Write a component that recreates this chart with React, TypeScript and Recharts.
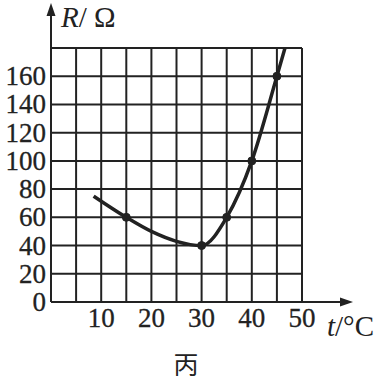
import { ComposedChart, Line, XAxis, YAxis, CartesianGrid } from 'recharts';

// measured points (dots) and the hand-drawn curve through them
const pointT = [15, 30, 35, 40, 45];
const pointR = [60, 40, 60, 100, 160];
const curveT = [8.5, 15, 20, 25, 30, 35, 40, 45, 47.5];
const curveR = [75, 60, 50, 43, 40, 60, 100, 160, 191];
const xTicks = [0, 5, 10, 15, 20, 25, 30, 35, 40, 45, 50];
const yTicks = [0, 20, 40, 60, 80, 100, 120, 140, 160, 180];

const points = pointT.map((t, i) => ({ t, r: pointR[i] }));
const curve = curveT.map((t, i) => ({ t, r: curveR[i] }));

const INK = '#222';
const SERIF = '"Liberation Serif", "DejaVu Serif", serif';

function XTick(props: any) {
    const { x, y, payload } = props;
    const v = payload.value;
    if (v === 0 || v % 10 !== 0) return null;
    return (
        <text x={x} y={y + 25} textAnchor="middle" style={{ fontFamily: SERIF, fontSize: 27 }} fill={INK} stroke={INK} strokeWidth={0.3}>
            {v}
        </text>
    );
}

function YTick(props: any) {
    const { x, y, payload } = props;
    const v = payload.value;
    if (v === 180) return null;
    return (
        <text x={x - 5} y={y + 9} textAnchor="end" style={{ fontFamily: SERIF, fontSize: 27 }} fill={INK} stroke={INK} strokeWidth={0.3}>
            {v}
        </text>
    );
}

function YArrow(props: any) {
    const { x, y, width } = props.viewBox;
    const ax = x + width;
    return (
        <g>
            <line x1={ax} y1={y} x2={ax} y2={9} stroke={INK} strokeWidth={2} />
            <polygon points={`${ax},3 ${ax - 4.5},16 ${ax + 4.5},16`} fill={INK} />
            <text x={ax + 10} y={27} style={{ fontFamily: SERIF, fontSize: 29 }} fill={INK}>
                <tspan fontStyle="italic">R</tspan>
                <tspan>/ Ω</tspan>
            </text>
        </g>
    );
}

function XArrow(props: any) {
    const { x, y, width } = props.viewBox;
    const ex = x + width;
    return (
        <g>
            <line x1={ex} y1={y} x2={ex + 44} y2={y} stroke={INK} strokeWidth={2} />
            <polygon points={`${ex + 51},${y} ${ex + 38},${y - 4.5} ${ex + 38},${y + 4.5}`} fill={INK} />
            <text x={ex + 25} y={y + 34} style={{ fontFamily: SERIF, fontSize: 29 }} fill={INK}>
                <tspan fontStyle="italic">t</tspan>
                <tspan>/°C</tspan>
            </text>
            <text x={186} y={y + 72} textAnchor="middle" style={{ fontFamily: '"Noto Sans CJK SC", sans-serif', fontSize: 25 }} fill={INK}>
                丙
            </text>
        </g>
    );
}

export default function App() {
    return (
        <div style={{ position: 'absolute', left: 0, top: 0, width: 380, height: 380, background: '#fff' }}>
            <ComposedChart width={380} height={380} margin={{ top: 48, right: 78, bottom: 0, left: 0 }}>
                <CartesianGrid stroke={INK} strokeWidth={2} />
                <XAxis
                    type="number"
                    dataKey="t"
                    domain={[0, 50]}
                    ticks={xTicks}
                    interval={0}
                    height={78}
                    tickSize={0}
                    tickMargin={0}
                    axisLine={{ stroke: INK, strokeWidth: 2 }}
                    tickLine={false}
                    tick={<XTick />}
                    label={{ content: XArrow }}
                />
                <YAxis
                    type="number"
                    domain={[0, 180]}
                    ticks={yTicks}
                    interval={0}
                    allowDataOverflow
                    width={51}
                    tickSize={0}
                    tickMargin={0}
                    axisLine={{ stroke: INK, strokeWidth: 2 }}
                    tickLine={false}
                    tick={<YTick />}
                    label={{ content: YArrow }}
                />
                <Line
                    data={curve}
                    dataKey="r"
                    type="monotone"
                    stroke={INK}
                    strokeWidth={3.5}
                    dot={false}
                    isAnimationActive={false}
                />
                <Line
                    data={points}
                    dataKey="r"
                    stroke="none"
                    dot={{ r: 4, fill: INK, stroke: INK, strokeWidth: 1 }}
                    isAnimationActive={false}
                />
            </ComposedChart>
        </div>
    );
}
